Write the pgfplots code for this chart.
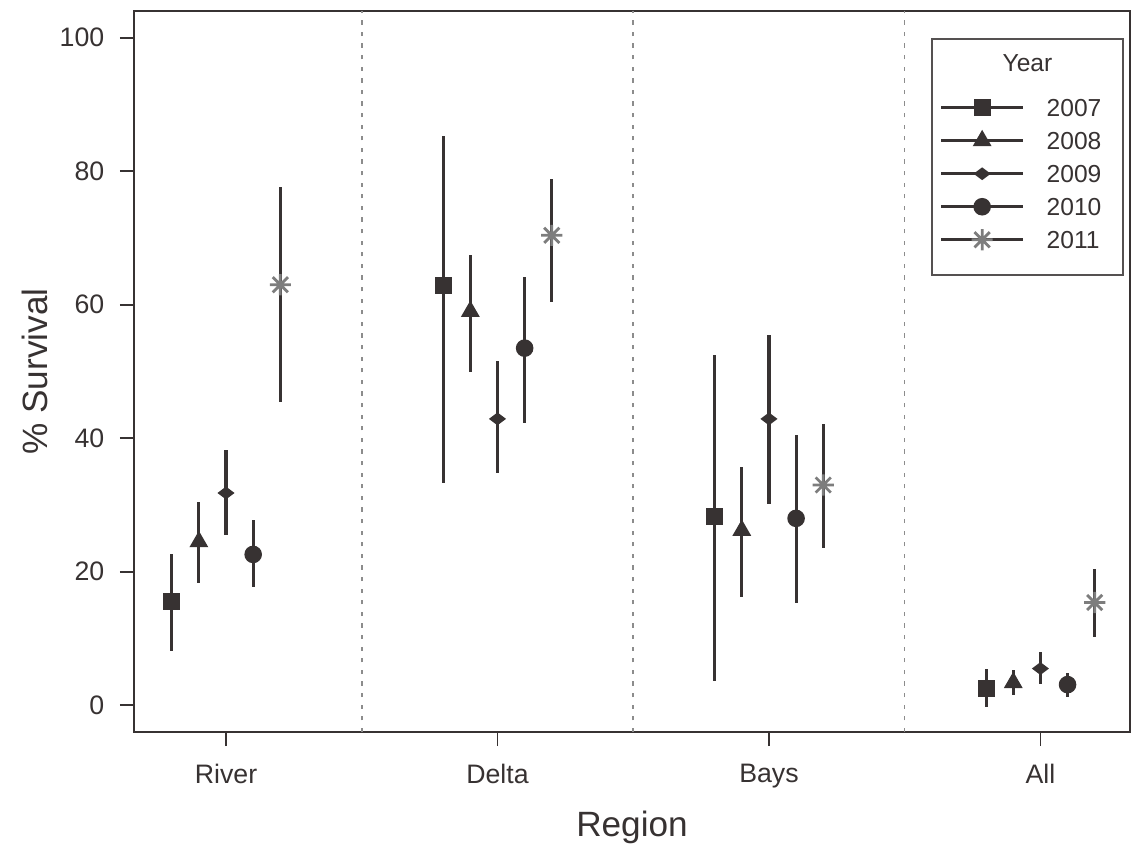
\documentclass[border=0pt]{standalone}
\usepackage{pgfplots}
\pgfplotsset{compat=1.18}
\usepackage{pgfplotstable}
\usepackage{fontspec}
\setmainfont{Liberation Sans}

\definecolor{ink}{RGB}{55,50,50}
\definecolor{stargray}{RGB}{125,125,125}
\definecolor{sepgray}{RGB}{140,140,140}

% R-style asterisk (pch 8): a plus and a cross
\pgfdeclareplotmark{star8}{%
  \pgfpathmoveto{\pgfqpoint{-\pgfplotmarksize}{0pt}}%
  \pgfpathlineto{\pgfqpoint{\pgfplotmarksize}{0pt}}%
  \pgfpathmoveto{\pgfqpoint{0pt}{-\pgfplotmarksize}}%
  \pgfpathlineto{\pgfqpoint{0pt}{\pgfplotmarksize}}%
  \pgfpathmoveto{\pgfqpoint{-.72\pgfplotmarksize}{-.72\pgfplotmarksize}}%
  \pgfpathlineto{\pgfqpoint{.72\pgfplotmarksize}{.72\pgfplotmarksize}}%
  \pgfpathmoveto{\pgfqpoint{-.72\pgfplotmarksize}{.72\pgfplotmarksize}}%
  \pgfpathlineto{\pgfqpoint{.72\pgfplotmarksize}{-.72\pgfplotmarksize}}%
  \pgfusepathqstroke}

% x = region index (River 1, Delta 2, Bays 3, All 4) + year offset
\pgfplotstableread{
x    y     lo    hi
0.8  15.5  8.1   22.7
1.8  62.9  33.3  85.3
2.8  28.3  3.6   52.5
3.8  2.5   -0.3  5.4
}\yrA
\pgfplotstableread{
x    y     lo    hi
0.9  24.5  18.3  30.4
1.9  59.0  50.0  67.4
2.9  26.2  16.2  35.7
3.9  3.4   1.6   5.3
}\yrB
\pgfplotstableread{
x    y     lo    hi
1.0  31.8  25.5  38.2
2.0  42.9  34.8  51.5
3.0  42.9  30.2  55.5
4.0  5.5   3.2   8.0
}\yrC
\pgfplotstableread{
x    y     lo    hi
1.1  22.6  17.7  27.7
2.1  53.5  42.3  64.2
3.1  28.0  15.3  40.5
4.1  3.1   1.2   4.9
}\yrD
\pgfplotstableread{
x    y     lo    hi
1.2  63.0  45.5  77.7
2.2  70.4  60.4  78.9
3.2  33.0  23.6  42.1
4.2  15.4  10.3  20.4
}\yrE

\pgfplotsset{
  errs/.style={only marks, color=ink,
    error bars/y dir=both, error bars/y explicit, error bars/error mark=none,
    error bars/error bar style={ink, line width=0.9pt}},
}

\begin{document}
\begin{tikzpicture}
\useasboundingbox (-1.34cm,-1.16cm) rectangle (9.97cm,7.32cm);
\begin{axis}[
  scale only axis,
  width=9.96cm, height=7.21cm,
  xmin=0.661, xmax=4.33,
  ymin=-4, ymax=104,
  xtick={1,2,3,4},
  xticklabels={River,Delta,Bays,All},
  ytick={0,20,40,60,80,100},
  tick align=outside,
  xtick pos=bottom, ytick pos=left,
  major tick length=1.4mm,
  axis line style={ink, line width=0.6pt},
  tick style={ink, line width=0.5pt},
  /pgf/number format/assume math mode=true,
  ticklabel style={font=\fontsize{7.6}{9}\selectfont, text=ink, inner sep=0pt},
  xticklabel style={yshift=-1.7mm},
  yticklabel style={xshift=-1.5mm},
  xlabel={Region},
  ylabel={\% Survival},
  label style={font=\fontsize{10}{12}\selectfont, text=ink},
  x label style={at={(axis description cs:0.5,-0.133)}, anchor=center},
  y label style={at={(axis description cs:-0.0994,0.5)}, anchor=center},
  extra x ticks={1.5,2.5,3.5},
  extra x tick labels={},
  extra x tick style={grid=major, major tick length=0pt,
    major grid style={sepgray, line width=0.45pt, dash pattern=on 1.2pt off 2.1pt}},
  legend cell align=left,
  legend image code/.code={
    \path[draw=none, fill=none] (0cm,-1.6mm) rectangle (8.2mm,1.6mm);
    \draw[ink, line width=0.85pt] (0cm,0cm) -- (8.2mm,0cm);
    \draw[mark repeat=2, mark phase=2, #1] plot coordinates {(0cm,0cm) (4.1mm,0cm) (8.2mm,0cm)};
  },
  legend style={name=leg, draw=none, fill=none, inner sep=0pt,
    at={(axis description cs:0.8082,0.889)}, anchor=north west,
    font=\fontsize{7}{8}\selectfont, text=ink,
    nodes={inner sep=0pt, text depth=0pt},
    row sep=0.1mm, column sep=2.2mm},
]
\addplot[errs, mark=square*, mark size=2.2pt, mark options={ink, fill=ink}]
  table[x=x, y=y, y error plus expr=\thisrow{hi}-\thisrow{y},
        y error minus expr=\thisrow{y}-\thisrow{lo}] {\yrA};
\addlegendentry{2007}
\addplot[errs, mark=triangle*, mark size=2.7pt, mark options={ink, fill=ink}]
  table[x=x, y=y, y error plus expr=\thisrow{hi}-\thisrow{y},
        y error minus expr=\thisrow{y}-\thisrow{lo}] {\yrB};
\addlegendentry{2008}
\addplot[errs, mark=diamond*, mark size=2.1pt, mark options={ink, fill=ink, rotate=90}]
  table[x=x, y=y, y error plus expr=\thisrow{hi}-\thisrow{y},
        y error minus expr=\thisrow{y}-\thisrow{lo}] {\yrC};
\addlegendentry{2009}
\addplot[errs, mark=*, mark size=2.3pt, mark options={ink, fill=ink}]
  table[x=x, y=y, y error plus expr=\thisrow{hi}-\thisrow{y},
        y error minus expr=\thisrow{y}-\thisrow{lo}] {\yrD};
\addlegendentry{2010}
\addplot[errs, mark=star8, mark size=3pt, mark options={stargray, line width=0.8pt}]
  table[x=x, y=y, y error plus expr=\thisrow{hi}-\thisrow{y},
        y error minus expr=\thisrow{y}-\thisrow{lo}] {\yrE};
\addlegendentry{2011}
\end{axis}
% legend title and frame
\node[font=\fontsize{7}{8}\selectfont, text=ink] at (8.935cm,6.69cm) {Year};
\draw[ink!85, line width=0.5pt] (7.98cm,4.57cm) rectangle (9.89cm,6.93cm);
\end{tikzpicture}
\end{document}
